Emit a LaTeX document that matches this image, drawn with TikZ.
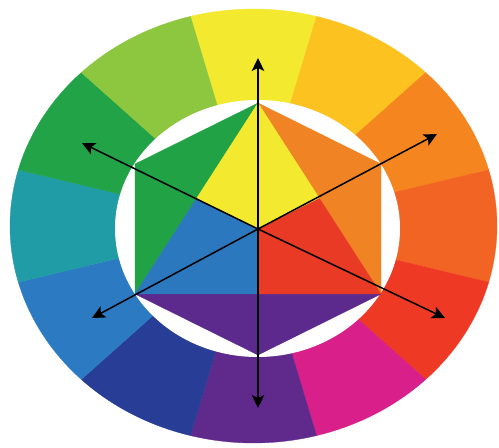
\documentclass[tikz,border=0pt]{standalone}
\usetikzlibrary{arrows.meta,calc}
\definecolor{rY}{HTML}{F3E92F}
\definecolor{rYO}{HTML}{FCC320}
\definecolor{rO}{HTML}{F5861F}
\definecolor{rRO}{HTML}{F26424}
\definecolor{rR}{HTML}{EE3A25}
\definecolor{rRV}{HTML}{D91F89}
\definecolor{rV}{HTML}{5F2A8C}
\definecolor{rBV}{HTML}{283D96}
\definecolor{rB}{HTML}{2C7BC2}
\definecolor{rBG}{HTML}{1F9CA6}
\definecolor{rG}{HTML}{22A348}
\definecolor{rYG}{HTML}{8DC63F}
\definecolor{hY}{HTML}{F3EA2F}
\definecolor{hR}{HTML}{E93A25}
\definecolor{hB}{HTML}{2C78BE}
\definecolor{hG}{HTML}{21A244}
\definecolor{hO}{HTML}{F08424}
\definecolor{hV}{HTML}{5B2A8C}
\tikzset{
  seg/.style={line width=0.3pt},
  axis/.style={line width=1.5pt, black, -{Stealth[length=13pt,width=12.5pt,inset=3pt]}, shorten >=0pt}
}
\begin{document}
\begin{tikzpicture}[x=1pt,y=1pt]
\useasboundingbox[fill=white] (0,0) rectangle (499,448);
% outer ring
\coordinate (O) at (253.5,222);
\foreach \a/\c in {90/rY,60/rYO,30/rO,0/rRO,-30/rR,-60/rRV,-90/rV,-120/rBV,-150/rB,180/rBG,150/rG,120/rYG}{
  \fill[\c, draw=\c, seg] (O) -- ($(O)+({243.5*cos(\a-15)},{217*sin(\a-15)})$)
     arc[start angle=\a-15, end angle=\a+15, x radius=243.5, y radius=217] -- cycle;
}
% inner white ellipse
\coordinate (I) at (257.5,219.5);
\fill[white] (I) ellipse[x radius=142.5, y radius=128.5];
% hexagon
\coordinate (H) at (258,219);
\coordinate (T) at (258,345);
\coordinate (UL) at (135,284);
\coordinate (LL) at (135,154);
\coordinate (Bt) at (258,93);
\coordinate (LR) at (381,154);
\coordinate (UR) at (381,284);
\coordinate (ML) at ($(T)!0.5!(LL)$);
\coordinate (MR) at ($(T)!0.5!(LR)$);
\coordinate (MB) at ($(LL)!0.5!(LR)$);
\fill[hG, draw=hG, seg] (T) -- (UL) -- (LL) -- cycle;
\fill[hO, draw=hO, seg] (T) -- (UR) -- (LR) -- cycle;
\fill[hV, draw=hV, seg] (LL) -- (Bt) -- (LR) -- cycle;
\fill[hY, draw=hY, seg] (T) -- (MR) -- (H) -- (ML) -- cycle;
\fill[hR, draw=hR, seg] (LR) -- (MB) -- (H) -- (MR) -- cycle;
\fill[hB, draw=hB, seg] (LL) -- (ML) -- (H) -- (MB) -- cycle;
% arrows
\coordinate (aU) at (258,390);
\coordinate (aD) at (258,40);
\coordinate (aUL) at (82,305);
\coordinate (aUR) at (437,314);
\coordinate (aLL) at (92,130);
\coordinate (aLR) at (445,130);
\foreach \e in {aU,aD,aUL,aUR,aLL,aLR}{
  \draw[axis] (H) -- (\e);
}
\end{tikzpicture}
\end{document}
